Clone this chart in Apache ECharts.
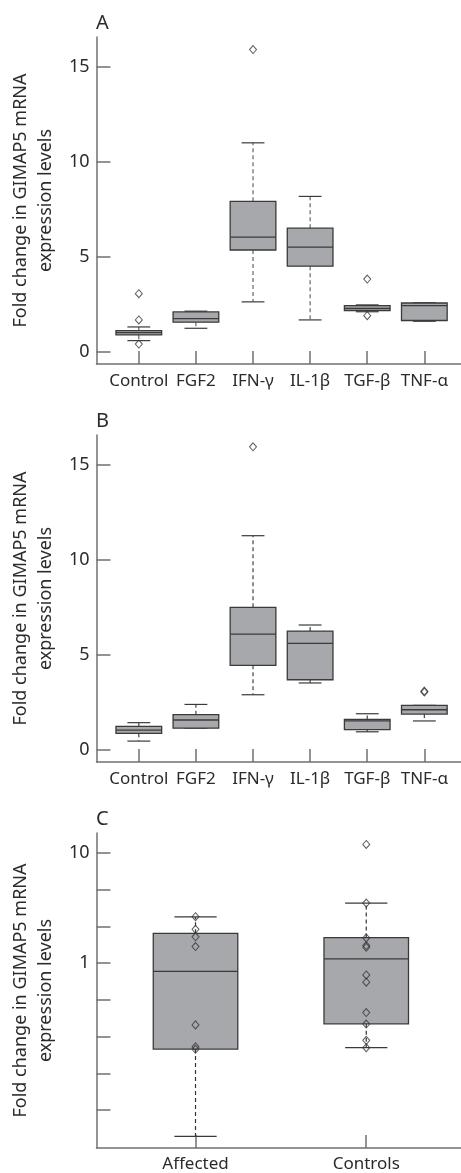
<!DOCTYPE html>
<html><head><meta charset="utf-8">
<script src="https://cdn.jsdelivr.net/npm/echarts@6/dist/echarts.min.js"></script>
<style>html,body{margin:0;padding:0;background:#fff}#c{width:461px;height:1173px}</style>
</head><body><div id="c"></div>
<script>
// ---- data ----
const catsAB = ['Control', 'FGF2', 'IFN-γ', 'IL-1β', 'TGF-β', 'TNF-α'];
// [lower whisker, Q1, median, Q3, upper whisker]
const boxA = [
  [0.58, 0.88, 1.00, 1.11, 1.30],
  [1.23, 1.55, 1.74, 2.09, 2.13],
  [2.62, 5.35, 6.03, 7.91, 10.99],
  [1.67, 4.50, 5.50, 6.50, 8.17],
  [2.10, 2.16, 2.27, 2.42, 2.46],
  [1.60, 1.64, 2.42, 2.56, 2.57]
];
const outA = [[3.05, 1.67, 0.40], [], [15.9], [], [3.82, 1.89], []];
const boxB = [
  [0.47, 0.88, 1.05, 1.25, 1.44],
  [1.15, 1.15, 1.58, 1.86, 2.40],
  [2.91, 4.46, 6.10, 7.51, 11.28],
  [3.53, 3.70, 5.61, 6.26, 6.58],
  [0.96, 1.07, 1.53, 1.61, 1.91],
  [1.53, 1.89, 2.12, 2.35, 2.35]
];
const outB = [[], [], [15.96], [], [], [3.05, 3.10]];
const catsC = ['Affected', 'Controls'];
const boxC = [
  [0.0268, 0.166, 0.84, 1.86, 2.62],
  [0.171, 0.281, 1.09, 1.70, 3.5]
];
const ptsC = [
  [2.63, 2.02, 1.73, 1.41, 0.275, 0.174, 0.165],
  [11.9, 3.5, 1.69, 1.44, 1.39, 0.78, 0.67, 0.356, 0.28, 0.199, 0.171]
];
const yTicksAB = [0, 5, 10, 15];
const yTicksC = [0.0464, 0.1, 0.215, 0.464, 1, 2.15, 4.64, 10];
const yLabelsC = [1, 10];
const panelLetters = ['A', 'B', 'C'];
const yTitle = 'Fold change in GIMAP5 mRNA\nexpression levels';

// ---- rendering ----
const FONT = 'Noto Sans';
const AX = '#707070';
const TXT = '#2b2b2b';

function boxRender(frac, whiskColor) {
  return function (params, api) {
    const x = api.value(0);
    const lo = api.value(1), q1 = api.value(2), md = api.value(3), q3 = api.value(4), hi = api.value(5);
    const pL = api.coord([x - frac / 2, md]);
    const pR = api.coord([x + frac / 2, md]);
    const cx = (pL[0] + pR[0]) / 2, hw = (pR[0] - pL[0]) / 2;
    const yLo = api.coord([x, lo])[1], yQ1 = api.coord([x, q1])[1], yMd = pL[1],
          yQ3 = api.coord([x, q3])[1], yHi = api.coord([x, hi])[1];
    const st = '#3a3a3a';
    const dash = { stroke: whiskColor, lineWidth: 1.2, lineDash: [4, 3] };
    return {
      type: 'group', children: [
        { type: 'line', shape: { x1: cx, y1: yQ3, x2: cx, y2: yHi }, style: dash },
        { type: 'line', shape: { x1: cx, y1: yQ1, x2: cx, y2: yLo }, style: dash },
        { type: 'line', shape: { x1: cx - hw / 2, y1: yHi, x2: cx + hw / 2, y2: yHi }, style: { stroke: st, lineWidth: 1.2 } },
        { type: 'line', shape: { x1: cx - hw / 2, y1: yLo, x2: cx + hw / 2, y2: yLo }, style: { stroke: st, lineWidth: 1.2 } },
        { type: 'rect', shape: { x: cx - hw, y: yQ3, width: 2 * hw, height: yQ1 - yQ3 }, style: { fill: '#a7a8ab', stroke: st, lineWidth: 1.3 } },
        { type: 'line', shape: { x1: cx - hw, y1: yMd, x2: cx + hw, y2: yMd }, style: { stroke: st, lineWidth: 1.3 } }
      ]
    };
  };
}

function toPts(list) {
  const r = [];
  list.forEach((vals, i) => vals.forEach(v => r.push([i + 1, v])));
  return r;
}

const axisLine = { show: true, onZero: false, lineStyle: { color: AX, width: 1.5 } };
const tickStyle = { color: AX, width: 1.5 };
const labelStyle = { color: TXT, fontSize: 17, fontFamily: FONT };
const yLabelStyle = { color: TXT, fontSize: 18, fontFamily: FONT };

function yAxisAB(gi, min, max) {
  return {
    gridIndex: gi, type: 'value', min: min, max: max,
    axisLine: axisLine,
    axisTick: { show: true, inside: true, length: 14, customValues: yTicksAB, lineStyle: tickStyle },
    axisLabel: Object.assign({ customValues: yTicksAB, margin: 7 }, yLabelStyle),
    splitLine: { show: false },
    name: yTitle, nameLocation: 'middle', nameGap: 34, nameRotate: 90,
    nameTextStyle: { color: TXT, fontSize: 18, lineHeight: 25, fontFamily: FONT }
  };
}
function xAxisAB(gi) {
  const pos = catsAB.map((c, i) => i + 1);
  return {
    gridIndex: gi, type: 'value', min: 0.259, max: 6.642,
    axisLine: axisLine,
    axisTick: { show: true, inside: true, length: 13, customValues: pos, lineStyle: tickStyle },
    axisLabel: Object.assign({ customValues: pos, margin: 9, formatter: v => catsAB[Math.round(v) - 1] }, labelStyle),
    splitLine: { show: false }
  };
}

const chart = echarts.init(document.getElementById('c'), null, { renderer: 'canvas' });
const diamond = { symbol: 'diamond', symbolSize: [7, 8], itemStyle: { color: 'rgba(255,255,255,0)', borderColor: '#333', borderWidth: 1 } };

chart.setOption({
  animation: false,
  backgroundColor: '#fff',
  grid: [
    { left: 93, right: 0, top: 37, height: 327 },
    { left: 93, right: 0, top: 435, height: 327 },
    { left: 93, right: 0, top: 833, height: 318 }
  ],
  xAxis: [
    xAxisAB(0), xAxisAB(1),
    {
      gridIndex: 2, type: 'value', min: 0.42, max: 2.555,
      axisLine: axisLine,
      axisTick: { show: true, inside: true, length: 13, customValues: [1, 2], lineStyle: tickStyle },
      axisLabel: Object.assign({ customValues: [1, 2], margin: 8, formatter: v => catsC[Math.round(v) - 1] }, labelStyle),
      splitLine: { show: false }
    }
  ],
  yAxis: [
    yAxisAB(0, -0.65, 16.56),
    yAxisAB(1, -0.63, 16.58),
    {
      gridIndex: 2, type: 'log', logBase: 10, min: 0.02104, max: 15.1,
      axisLine: axisLine,
      axisTick: { show: true, inside: true, length: 14, customValues: yTicksC, lineStyle: tickStyle },
      axisLabel: Object.assign({ customValues: yLabelsC, margin: 7 }, yLabelStyle),
      splitLine: { show: false },
      name: yTitle, nameLocation: 'middle', nameGap: 34, nameRotate: 90,
      nameTextStyle: { color: TXT, fontSize: 18, lineHeight: 25, fontFamily: FONT }
    }
  ],
  graphic: panelLetters.map((t, i) => ({
    type: 'text', left: 96, top: [13, 411, 809][i],
    style: { text: t, fontSize: 20, fontFamily: FONT, fill: TXT }
  })),
  series: [
    { type: 'custom', xAxisIndex: 0, yAxisIndex: 0, renderItem: boxRender(0.8, '#666'), encode: { x: 0, y: [1, 2, 3, 4, 5] }, data: boxA.map((b, i) => [i + 1].concat(b)), z: 2 },
    Object.assign({ type: 'scatter', xAxisIndex: 0, yAxisIndex: 0, data: toPts(outA), z: 3 }, diamond),
    { type: 'custom', xAxisIndex: 1, yAxisIndex: 1, renderItem: boxRender(0.8, '#444'), encode: { x: 0, y: [1, 2, 3, 4, 5] }, data: boxB.map((b, i) => [i + 1].concat(b)), z: 2 },
    Object.assign({ type: 'scatter', xAxisIndex: 1, yAxisIndex: 1, data: toPts(outB), z: 3 }, diamond),
    { type: 'custom', xAxisIndex: 2, yAxisIndex: 2, renderItem: boxRender(0.495, '#333'), encode: { x: 0, y: [1, 2, 3, 4, 5] }, data: boxC.map((b, i) => [i + 1].concat(b)), z: 2 },
    Object.assign({ type: 'scatter', xAxisIndex: 2, yAxisIndex: 2, data: toPts(ptsC), z: 3 }, diamond)
  ]
});
</script>
</body></html>
